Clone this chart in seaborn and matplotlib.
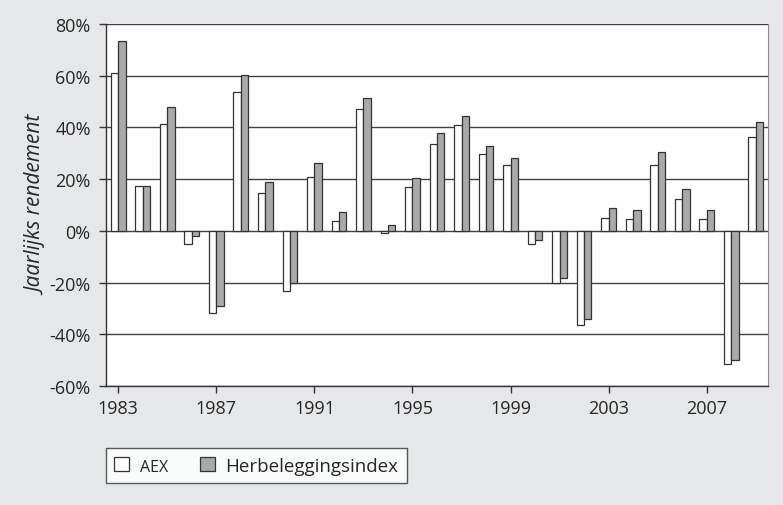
import seaborn as sns
import pandas as pd
import matplotlib.pyplot as plt
from matplotlib.ticker import PercentFormatter

# jaarlijks rendement AEX vs herbeleggingsindex
years = list(range(1983, 2010))
aex = [61.0, 17.4, 41.4, -5.0, -31.9, 53.7, 14.6, -23.2, 21.0, 3.7,
       47.2, -0.8, 16.8, 33.6, 40.8, 29.9, 25.5, -5.1, -20.3, -36.3,
       5.1, 4.5, 25.5, 12.4, 4.5, -51.5, 36.4]
herb = [73.3, 17.4, 48.0, -2.0, -29.0, 60.3, 19.0, -20.3, 26.3, 7.3,
        51.5, 2.2, 20.4, 37.8, 44.3, 32.8, 28.3, -3.6, -18.2, -34.1,
        8.7, 8.1, 30.6, 16.0, 8.1, -50.0, 42.2]
tick_years = [1983, 1987, 1991, 1995, 1999, 2003, 2007]

df = pd.DataFrame({
    'jaar': [str(y) for y in years] * 2,
    'rendement': aex + herb,
    'index': ['AEX'] * len(years) + ['Herbeleggingsindex'] * len(years),
})

sns.set_style('white')
plt.rcParams['font.family'] = ['Open Sans', 'DejaVu Sans']
plt.rcParams['axes.unicode_minus'] = False

fig = plt.figure(figsize=(7.83, 5.06), dpi=100)
fig.patch.set_facecolor('#e6e7e8')
ax = fig.add_axes([106 / 783, 1 - 387 / 506, 662 / 783, 362 / 506])
ax.set_facecolor('white')

ax.set_axisbelow(True)
ax.yaxis.grid(True, color='#404040', linewidth=1)

sns.barplot(data=df, x='jaar', y='rendement', hue='index',
            palette={'AEX': 'white', 'Herbeleggingsindex': '#a7a9ac'},
            width=0.6, edgecolor='#333333', linewidth=0.9, ax=ax, zorder=3)

ax.set_ylim(-60, 80)
ax.set_yticks(range(-60, 81, 20))
ax.yaxis.set_major_formatter(PercentFormatter(decimals=0))
ax.set_xlim(-0.5, len(years) - 0.5)
ax.set_xticks([years.index(y) for y in tick_years])
ax.set_xticklabels([str(y) for y in tick_years])
ax.tick_params(axis='both', labelsize=13, length=5, width=1, color='#333333',
               direction='out', bottom=True, left=True)
ax.tick_params(axis='y', pad=6)
ax.tick_params(axis='x', pad=4)

for side in ['left', 'bottom']:
    ax.spines[side].set_color('#333333')
    ax.spines[side].set_linewidth(1)
ax.spines['right'].set_color('#888888')
ax.spines['top'].set_visible(False)

ax.set_xlabel('')
ax.set_ylabel('Jaarlijks rendement', fontsize=15, style='italic', labelpad=1)

ax.get_legend().remove()
handles, labels = ax.get_legend_handles_labels()
leg = fig.legend(handles, labels, loc='lower left', ncol=2,
                 bbox_to_anchor=(106 / 783, 1 - 484 / 506),
                 frameon=True, fancybox=False, fontsize=13.5,
                 handlelength=0.8, handleheight=0.8, handletextpad=0.55,
                 columnspacing=1.7, borderpad=0.45, borderaxespad=0)
leg.get_frame().set_edgecolor('#333333')
leg.get_frame().set_linewidth(1)
leg.get_texts()[0].set_fontsize(11.5)

fig.savefig('out.png', dpi=100, facecolor=fig.get_facecolor())
